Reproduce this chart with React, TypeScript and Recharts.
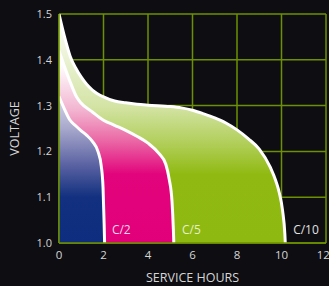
import React from 'react';
import {
  ComposedChart,
  Area,
  XAxis,
  YAxis,
  CartesianGrid,
  ReferenceDot,
  ReferenceLine,
} from 'recharts';

// C/10 discharge (hours, volts)
const c10Hours = [0, 0.25, 0.5, 0.75, 1.0, 1.25, 1.5, 2.0, 2.5, 3.0, 3.5, 4.0, 5.0, 5.5, 6.0, 6.5, 7.0, 7.5, 8.0, 8.5, 9.0, 9.5, 9.75, 9.9, 10.05, 10.15, 10.17];
const c10Volts = [1.5, 1.45, 1.408, 1.382, 1.362, 1.346, 1.334, 1.319, 1.31, 1.306, 1.303, 1.301, 1.298, 1.295, 1.29, 1.282, 1.273, 1.262, 1.247, 1.228, 1.205, 1.165, 1.135, 1.11, 1.07, 1.02, 1.0];

// C/5 discharge
const c5Hours = [0, 0.25, 0.5, 0.8, 1.0, 1.5, 2.0, 2.5, 3.0, 3.5, 4.0, 4.5, 4.8, 4.95, 5.08, 5.14, 5.16];
const c5Volts = [1.42, 1.385, 1.352, 1.318, 1.305, 1.286, 1.268, 1.257, 1.246, 1.233, 1.218, 1.195, 1.172, 1.14, 1.09, 1.03, 1.0];

// C/2 discharge
const c2Hours = [0, 0.25, 0.5, 0.75, 1.0, 1.25, 1.5, 1.75, 1.9, 1.98, 2.03, 2.05];
const c2Volts = [1.32, 1.292, 1.268, 1.256, 1.245, 1.235, 1.222, 1.2, 1.168, 1.12, 1.04, 1.0];

const xTicks = [0, 2, 4, 6, 8, 10, 12];
const yTicks = [1.0, 1.1, 1.2, 1.3, 1.4, 1.5];

const rateLabels = ['C/2', 'C/5', 'C/10'];
const rateLabelHours = [2.8, 5.95, 11.1];
const rateLabelVolts = [1.028, 1.028, 1.028];
const rateLabelColors = ['#f4d8e8', '#e6efcc', '#e2e2e2'];

const toRows = (hs: number[], vs: number[]) => hs.map((h, i) => ({ h, v: vs[i] }));

const c10Data = toRows(c10Hours, c10Volts);
const c5Data = toRows(c5Hours, c5Volts);
const c2Data = toRows(c2Hours, c2Volts);

const GRID = '#6c9000';
const FONT = '"Open Sans", "DejaVu Sans", sans-serif';
const TEXT = '#d6d6d6';

export default function App() {
  return (
    <div
      style={{
        position: 'fixed',
        left: 0,
        top: 0,
        width: 329,
        height: 286,
        background: '#0d0d12',
        overflow: 'hidden',
      }}
    >
      <ComposedChart width={329} height={286} margin={{ top: 14, right: 3, bottom: 0, left: 0 }}>
        <defs>
          <linearGradient id="gGreen" gradientUnits="userSpaceOnUse" x1="0" y1="14" x2="0" y2="243">
            <stop offset="0" stopColor="#ffffff" />
            <stop offset="0.4" stopColor="#d4e4a6" />
            <stop offset="0.56" stopColor="#b2cf5c" />
            <stop offset="0.7" stopColor="#90ba12" />
            <stop offset="1" stopColor="#8eb910" />
          </linearGradient>
          <linearGradient id="gPink" gradientUnits="userSpaceOnUse" x1="0" y1="14" x2="0" y2="243">
            <stop offset="0.22" stopColor="#ffffff" />
            <stop offset="0.42" stopColor="#f2b4d0" />
            <stop offset="0.55" stopColor="#ea6aa6" />
            <stop offset="0.7" stopColor="#e2047c" />
            <stop offset="1" stopColor="#e2007a" />
          </linearGradient>
          <linearGradient id="gBlue" gradientUnits="userSpaceOnUse" x1="0" y1="14" x2="0" y2="243">
            <stop offset="0.3" stopColor="#ececf6" />
            <stop offset="0.5" stopColor="#a8a8cc" />
            <stop offset="0.66" stopColor="#5a62a2" />
            <stop offset="0.8" stopColor="#12307f" />
            <stop offset="1" stopColor="#0f2d7e" />
          </linearGradient>
        </defs>
        <CartesianGrid stroke={GRID} strokeWidth={1.5} horizontalValues={yTicks} verticalValues={xTicks} />
        <XAxis
          type="number"
          dataKey="h"
          domain={[0, 12]}
          ticks={xTicks}
          allowDataOverflow
          height={43}
          axisLine={false}
          tickLine={false}
          tickSize={0}
          tickMargin={8}
          tick={{ fill: TEXT, fontSize: 11.5, fontFamily: FONT }}
          label={{ value: 'SERVICE HOURS', position: 'insideBottom', offset: 4, fill: TEXT, fontSize: 12.5, fontFamily: FONT }}
        />
        <YAxis
          type="number"
          dataKey="v"
          domain={[1.0, 1.5]}
          ticks={yTicks}
          allowDataOverflow
          width={59}
          axisLine={false}
          tickLine={false}
          tickSize={0}
          tickMargin={7}
          tickFormatter={(t: number) => t.toFixed(1)}
          tick={{ fill: TEXT, fontSize: 11, fontFamily: FONT }}
          label={{ value: 'VOLTAGE', angle: -90, position: 'center', dx: -15, fill: TEXT, fontSize: 12.5, fontFamily: FONT }}
        />
        <Area data={c10Data} dataKey="v" type="monotone" stroke="#ffffff" strokeWidth={3} fill="url(#gGreen)" fillOpacity={1} isAnimationActive={false} dot={false} activeDot={false} />
        <Area data={c5Data} dataKey="v" type="monotone" stroke="#ffffff" strokeWidth={3} fill="url(#gPink)" fillOpacity={1} isAnimationActive={false} dot={false} activeDot={false} />
        <Area data={c2Data} dataKey="v" type="monotone" stroke="#ffffff" strokeWidth={3} fill="url(#gBlue)" fillOpacity={1} isAnimationActive={false} dot={false} activeDot={false} />
        <ReferenceLine x={0} stroke={GRID} strokeWidth={1.5} />
        <ReferenceLine y={1.0} stroke={GRID} strokeWidth={1.5} />
        {rateLabels.map((t, i) => (
          <ReferenceDot
            key={t}
            x={rateLabelHours[i]}
            y={rateLabelVolts[i]}
            r={0}
            fill="none"
            stroke="none"
            label={{ value: t, position: 'center', fill: rateLabelColors[i], fontSize: 12, fontFamily: FONT }}
          />
        ))}
      </ComposedChart>
    </div>
  );
}
